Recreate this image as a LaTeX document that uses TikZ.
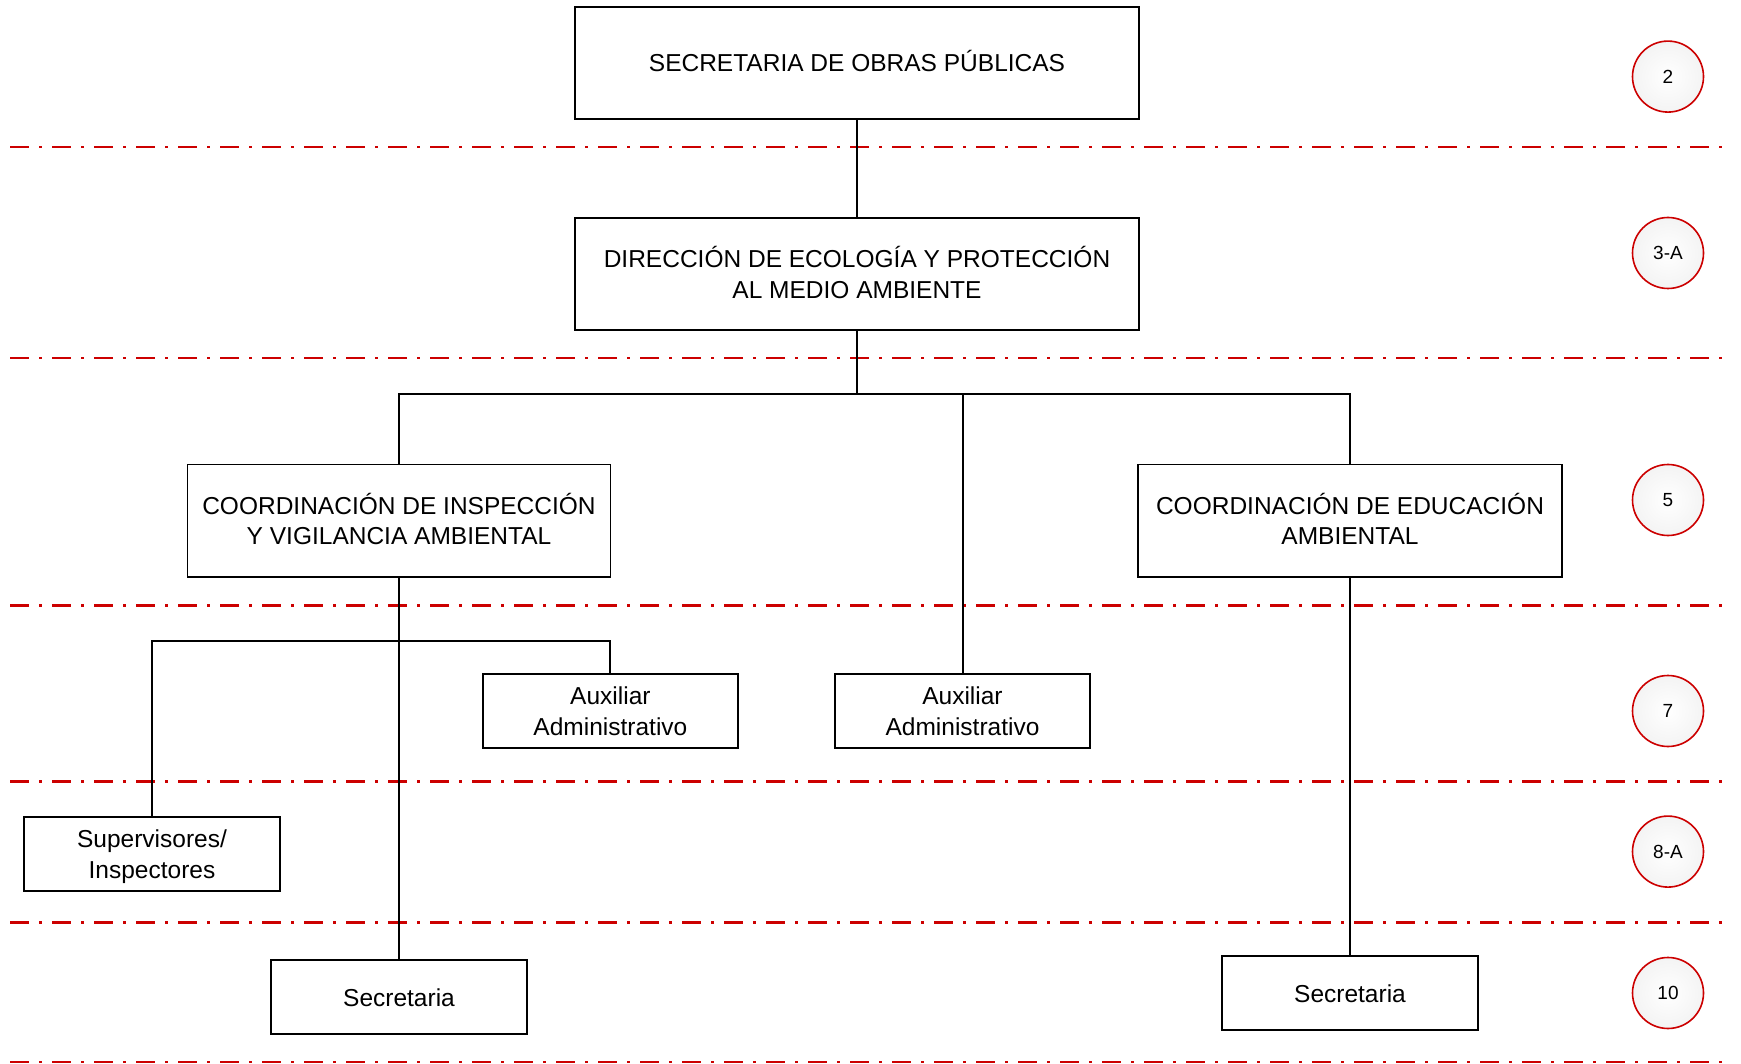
\documentclass[tikz,border=0pt]{standalone}
\usepackage{fontspec}
\setmainfont{Liberation Sans}
\definecolor{levelred}{RGB}{204,0,0}
\newcommand{\boxline}[1]{\smash{\raisebox{-9pt}{#1}}}
\begin{document}
\begin{tikzpicture}[x=1pt,y=-1pt,
  box/.style={draw=black,line width=1.8pt,fill=white,inner sep=0pt,align=center,
    font=\fontsize{24.5}{30.5}\selectfont},
  bigbox/.style={box,minimum height=112.5pt},
  smallbox/.style={box,minimum width=255.5pt,minimum height=74pt},
  level/.style={draw=levelred,line width=2.6pt,dash pattern=on 19pt off 10pt on 3pt off 10pt},
  levelmark/.style={circle,draw=levelred,line width=1.6pt,minimum size=71pt,inner sep=0pt,
    inner color=white,outer color=gray!9,font=\fontsize{19}{22}\selectfont},
  conn/.style={draw=black,line width=2pt}]
\useasboundingbox (0,0) rectangle (1741,1064);
% level lines
\foreach \yy/\nm in {147/l1,358/l2,605.3/l3,781.7/l4,922.6/l5,1062/l6}{
  \coordinate (\nm a) at (10,\yy);
  \coordinate (\nm b) at (1732,\yy);
  \draw[level] (\nm a) -- (\nm b);
}
% boxes
\node[bigbox,minimum width=564pt] (sop) at (857,63) {\raisebox{1.5pt}{\boxline{SECRETARIA DE OBRAS PÚBLICAS}}};
\node[bigbox,minimum width=564pt] (dir) at (857,274) {\boxline{DIRECCIÓN DE ECOLOGÍA Y PROTECCIÓN}\\\boxline{AL MEDIO AMBIENTE}};
\node[bigbox,minimum width=423pt] (cinsp) at (399,520.7) {\boxline{COORDINACIÓN DE INSPECCIÓN}\\\boxline{Y VIGILANCIA AMBIENTAL}};
\node[bigbox,minimum width=424pt] (cedu) at (1350,520.7) {\boxline{COORDINACIÓN DE EDUCACIÓN}\\\boxline{AMBIENTAL}};
\node[smallbox] (aux1) at (610.4,711) {\boxline{Auxiliar}\\\boxline{Administrativo}};
\node[smallbox] (aux2) at (962.5,711) {\boxline{Auxiliar}\\\boxline{Administrativo}};
\node[smallbox] (sup) at (152,854) {\boxline{Supervisores/}\\\boxline{Inspectores}};
\node[smallbox] (secl) at (399,997) {\boxline{Secretaria}};
\node[smallbox] (secr) at (1350,993) {\boxline{Secretaria}};
% connectors
\coordinate (bus) at (857,394);
\coordinate (sbus) at (399,640.6);
\draw[conn] (sop.south) -- (dir.north);
\draw[conn] (dir.south) -- (bus);
\draw[conn] (cinsp.north) |- (bus) -| (cedu.north);
\draw[conn] (bus -| aux2.north) -- (aux2.north);
\draw[conn] (cinsp.south) -- (secl.north);
\draw[conn] (sup.north) |- (sbus) -| (aux1.north);
\draw[conn] (cedu.south) -- (secr.north);
% level markers
\node[levelmark] (n2) at (1668,76.6) {2};
\node[levelmark] (n3a) at (1668,253) {3-A};
\node[levelmark] (n5) at (1668,500) {5};
\node[levelmark] (n7) at (1668,711) {7};
\node[levelmark] (n8a) at (1668,851.6) {8-A};
\node[levelmark] (n10) at (1668,993) {10};
\end{tikzpicture}
\end{document}
